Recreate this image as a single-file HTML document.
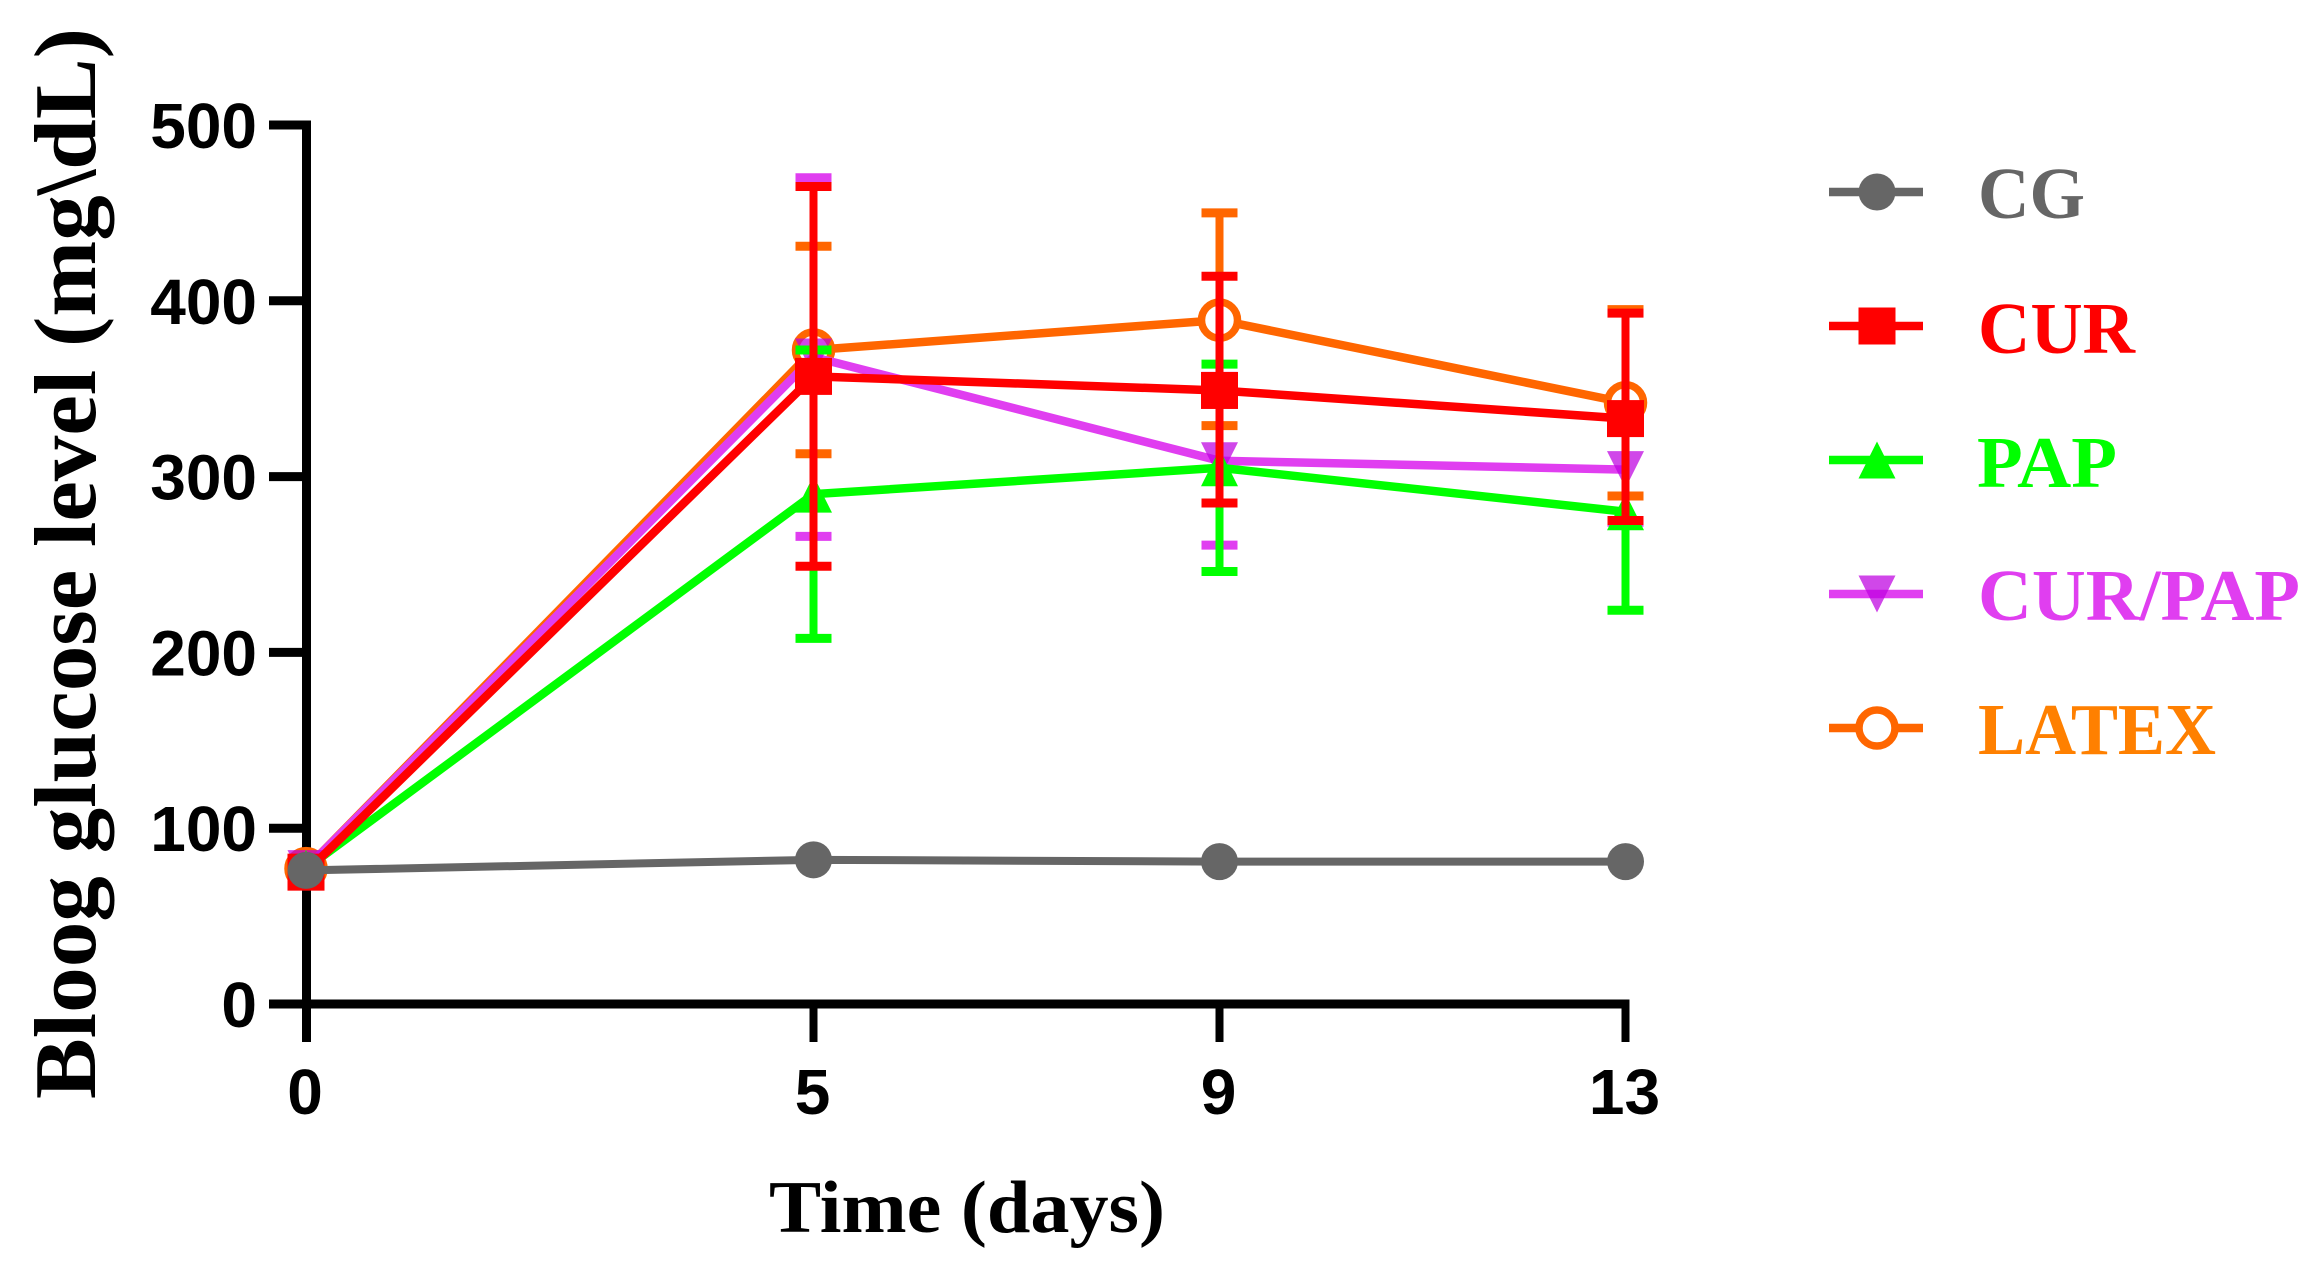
<!DOCTYPE html>
<html lang="en">
<head>
<meta charset="utf-8">
<title>Blood glucose level over time</title>
<style>
html,body{margin:0;padding:0;background:#fff;width:2323px;height:1281px;overflow:hidden}
svg{display:block}
.tick{font-family:"Liberation Sans",Arial,sans-serif;font-weight:700;font-size:64px;fill:#000}
.title{font-family:"Liberation Serif","Times New Roman",serif;font-weight:700;fill:#000}
.legend-text{font-family:"Liberation Serif","Times New Roman",serif;font-weight:700;font-size:73px}
</style>
</head>
<body>
<svg id="chart" xmlns="http://www.w3.org/2000/svg" width="2323" height="1281" viewBox="0 0 2323 1281">
  <g id="axes"></g>
  <g id="marks"></g>
  <text class="title" transform="translate(95,1099) rotate(-90)" font-size="88" textLength="1071" lengthAdjust="spacingAndGlyphs">Bloog glucose level (mg\dL)</text>
  <text class="title" x="769" y="1232" font-size="74" textLength="396" lengthAdjust="spacingAndGlyphs">Time (days)</text>
  <g id="legend">
    <text class="legend-text" x="1978" y="218" fill="#666666" textLength="107" lengthAdjust="spacingAndGlyphs">CG</text>
    <text class="legend-text" x="1978" y="353" fill="#ff0000" textLength="157" lengthAdjust="spacingAndGlyphs">CUR</text>
    <text class="legend-text" x="1977" y="487" fill="#00ff00" textLength="140" lengthAdjust="spacingAndGlyphs">PAP</text>
    <text class="legend-text" x="1978" y="620" fill="#e03ef0" textLength="322" lengthAdjust="spacingAndGlyphs">CUR/PAP</text>
    <text class="legend-text" x="1978" y="754" fill="#ff8000" textLength="238" lengthAdjust="spacingAndGlyphs">LATEX</text>
  </g>
</svg>
<script>
// ---- data ----
const days = [0, 5, 9, 13];
const yTicks = [0, 100, 200, 300, 400, 500];

const cgMean = [76, 82, 81, 81];

const curMean = [75, 357, 349, 333];
const curUpper = [null, 465, 414, 393];
const curLower = [null, 249, 285, 275];

const papMean = [77, 290, 305, 280];
const papUpper = [null, 372, 364, 335];
const papLower = [null, 208, 246, 224];

const curPapMean = [77, 368, 309, 304];
const curPapUpper = [null, 470, 357, 334];
const curPapLower = [null, 266, 261, 274];

const latexMean = [77, 372, 389, 342];
const latexUpper = [null, 431, 450, 395];
const latexLower = [null, 313, 329, 289];

// ---- axis functions ----
const xScale = d => 306 + d * (1625.5 - 306) / 13;
const yScale = v => 1004 - v * (1004 - 125) / 500;

const NS = 'http://www.w3.org/2000/svg';
function mk(tag, attrs, parent) {
  const el = document.createElementNS(NS, tag);
  for (const k in attrs) el.setAttribute(k, attrs[k]);
  parent.appendChild(el);
  return el;
}

function drawMarker(kind, cx, cy, colour, parent) {
  const s = 18.5;
  if (kind === 'circle') {
    return mk('circle', {cx: cx, cy: cy, r: s, fill: colour}, parent);
  }
  if (kind === 'square') {
    return mk('rect', {x: cx - s, y: cy - s, width: 2 * s, height: 2 * s, fill: colour}, parent);
  }
  if (kind === 'up') {
    return mk('polygon', {points: (cx) + ',' + (cy - s) + ' ' + (cx + s) + ',' + (cy + s) + ' ' + (cx - s) + ',' + (cy + s), fill: colour}, parent);
  }
  if (kind === 'down') {
    return mk('polygon', {points: (cx) + ',' + (cy + s) + ' ' + (cx + s) + ',' + (cy - s) + ' ' + (cx - s) + ',' + (cy - s), fill: 'rgba(190,0,225,.72)'}, parent);
  }
  return mk('circle', {cx: cx, cy: cy, r: 18, fill: '#fff', stroke: colour, 'stroke-width': 7.5}, parent);
}

// ---- axes ----
const axes = document.getElementById('axes');

const yAxisLine = mk('line', {x1: 306.5, x2: 306.5, y1: yScale(500) - 4.5, y2: 1042, stroke: '#000', 'stroke-width': 9}, axes);



const xAxisLine = mk('line', {x1: 269, x2: xScale(13) + 4, y1: yScale(0), y2: yScale(0), stroke: '#000', 'stroke-width': 9}, axes);



yTicks.forEach(function (t) {
  const tick = mk('line', {x1: 269, x2: 306, y1: yScale(t), y2: yScale(t), stroke: '#000', 'stroke-width': 9}, axes);
  
  
  const label = mk('text', {x: 257, y: yScale(t) + 23, 'text-anchor': 'end', class: 'tick'}, axes);
  label.textContent = String(t);
  
  
});

days.forEach(function (d) {
  const tick = mk('line', {x1: xScale(d), x2: xScale(d), y1: yScale(0), y2: 1042, stroke: '#000', 'stroke-width': 8}, axes);
  
  
  const label = mk('text', {x: xScale(d) - 1, y: 1114, 'text-anchor': 'middle', class: 'tick'}, axes);
  label.textContent = String(d);
  
  
});

// ---- series, back to front ----
const marks = document.getElementById('marks');

function drawSeries(key, means, uppers, lowers, colour, kind) {
  const g = mk('g', {}, marks);
  
  

  if (uppers && lowers) {
    days.forEach(function (d, i) {
      if (uppers[i] === null || lowers[i] === null) return;
      const x = xScale(d);
      const stem = mk('line', {x1: x, x2: x, y1: yScale(uppers[i]), y2: yScale(lowers[i]), stroke: colour, 'stroke-width': 8}, g);
      
      
      const capHigh = mk('line', {x1: x - 18, x2: x + 18, y1: yScale(uppers[i]), y2: yScale(uppers[i]), stroke: colour, 'stroke-width': 9}, g);
      
      
      const capLow = mk('line', {x1: x - 18, x2: x + 18, y1: yScale(lowers[i]), y2: yScale(lowers[i]), stroke: colour, 'stroke-width': 9}, g);
      
      
    });
  }

  const pts = days.map(function (d, i) { return xScale(d) + ',' + yScale(means[i]); }).join(' ');
  const path = mk('polyline', {points: pts, fill: 'none', stroke: colour, 'stroke-width': kind === 'circle' ? 8 : 8.5, 'stroke-linejoin': 'miter'}, g);
  
  

  days.forEach(function (d, i) {
    const m = drawMarker(kind, xScale(d), yScale(means[i]), colour, g);
    
    
  });
}

drawSeries('latex', latexMean, latexUpper, latexLower, '#ff6600', 'ring');
drawSeries('cur-pap', curPapMean, curPapUpper, curPapLower, '#e03ef0', 'down');
drawSeries('pap', papMean, papUpper, papLower, '#00ff00', 'up');
drawSeries('cur', curMean, curUpper, curLower, '#ff0000', 'square');
drawSeries('cg', cgMean, null, null, '#666666', 'circle');

// ---- legend keys ----
const legend = document.getElementById('legend');
function legendKey(key, y, colour, kind) {
  const line = mk('line', {x1: 1829, x2: 1923, y1: y, y2: y, stroke: colour, 'stroke-width': 8.5}, legend);
  
  
  const m = drawMarker(kind, 1877, y, colour, legend);
  
  
}
legendKey('cg', 192, '#666666', 'circle');
legendKey('cur', 326, '#ff0000', 'square');
legendKey('pap', 460, '#00ff00', 'up');
legendKey('cur-pap', 594, '#e03ef0', 'down');
legendKey('latex', 728, '#ff6600', 'ring');
</script>
</body>
</html>
